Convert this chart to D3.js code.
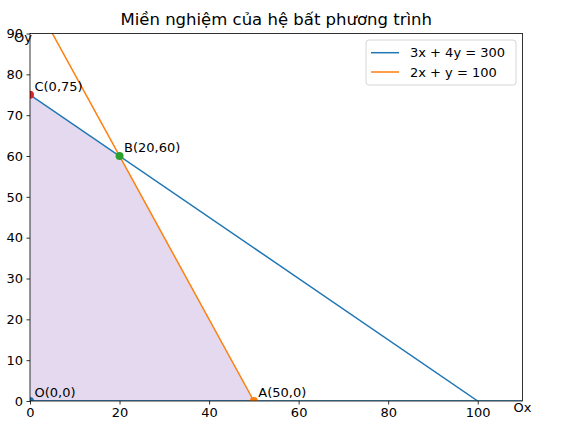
<!DOCTYPE html>
<html>
<head>
<meta charset="utf-8">
<script src="https://cdn.jsdelivr.net/npm/d3@7"></script>
<style>
  body { margin: 0; background: #fff; }
  text { font-family: "DejaVu Sans", sans-serif; fill: #000; }
</style>
</head>
<body>
<script>
// chart data
const title = "Miền nghiệm của hệ bất phương trình";
const lineLabels = ["3x + 4y = 300", "2x + y = 100"];
const lineColors = ["#1f77b4", "#ff7f0e"];
const line1X = [0, 100];
const line1Y = [75, 0];
const line2X = [0, 50];
const line2Y = [100, 0];
const pointNames = ["O(0,0)", "A(50,0)", "B(20,60)", "C(0,75)"];
const pointX = [0, 50, 20, 0];
const pointY = [0, 0, 60, 75];
const pointColors = ["#1f77b4", "#ff7f0e", "#2ca02c", "#d62728"];
const xTicks = [0, 20, 40, 60, 80, 100];
const yTicks = [0, 10, 20, 30, 40, 50, 60, 70, 80, 90];

const svgWidth = 568, svgHeight = 424;
const margin = { top: 33.5, left: 30, right: 45.5, bottom: 23 };
const chartWidth = svgWidth - margin.left - margin.right;
const chartHeight = svgHeight - margin.top - margin.bottom;

const svg = d3.select("body").append("svg")
  .attr("width", svgWidth)
  .attr("height", svgHeight);

svg.append("defs").append("clipPath").attr("id", "clip")
  .append("rect").attr("width", chartWidth).attr("height", chartHeight);

const chartGroup = svg.append("g")
  .attr("transform", `translate(${margin.left}, ${margin.top})`);

const x = d3.scaleLinear().domain([0, 110]).range([0, chartWidth]);
const y = d3.scaleLinear().domain([0, 90]).range([chartHeight, 0]);

// axes
const bottomAxis = d3.axisBottom(x).tickValues(xTicks).tickSize(3.5).tickPadding(3.5);
const leftAxis = d3.axisLeft(y).tickValues(yTicks).tickSize(3.5).tickPadding(3.5);

const gx = chartGroup.append("g")
  .attr("transform", `translate(0, ${chartHeight})`)
  .call(bottomAxis);
const gy = chartGroup.append("g").call(leftAxis);
[gx, gy].forEach(g => {
  g.select(".domain").remove();
  g.selectAll("text").style("font-size", "13px").style("font-family", "DejaVu Sans");
  g.selectAll("line").attr("stroke", "#000").attr("stroke-width", 0.8);
});

const plot = chartGroup.append("g").attr("clip-path", "url(#clip)");

// feasible region
plot.append("path")
  .datum(pointX.map((d, i) => [d, pointY[i]]))
  .attr("d", d3.line().x(d => x(d[0])).y(d => y(d[1])))
  .attr("fill", "#9467bd")
  .attr("fill-opacity", 0.25);

const drawLine = d3.line().x(d => x(d[0])).y(d => y(d[1]));
[[line1X, line1Y], [line2X, line2Y]].forEach((l, i) => {
  plot.append("path")
    .datum(l[0].map((d, j) => [d, l[1][j]]))
    .attr("d", drawLine)
    .attr("fill", "none")
    .attr("stroke", lineColors[i])
    .attr("stroke-width", 1.5);
});

// spines
chartGroup.append("rect")
  .attr("width", chartWidth).attr("height", chartHeight)
  .attr("fill", "none").attr("stroke", "#000").attr("stroke-width", 0.8);

// y = 0 line
plot.append("line")
  .attr("x1", x(0)).attr("x2", x(110))
  .attr("y1", y(0)).attr("y2", y(0))
  .attr("stroke", "#1f77b4").attr("stroke-width", 1.5);

// vertices
plot.selectAll(".pt")
  .data(pointX)
  .enter()
  .append("circle")
  .attr("class", "pt")
  .attr("cx", d => x(d))
  .attr("cy", (d, i) => y(pointY[i]))
  .attr("r", 4)
  .attr("fill", (d, i) => pointColors[i]);

chartGroup.selectAll(".ptLabel")
  .data(pointX)
  .enter()
  .append("text")
  .attr("class", "ptLabel")
  .attr("x", d => x(d + 1))
  .attr("y", (d, i) => y(pointY[i] + 1))
  .style("font-size", "13px")
  .text((d, i) => pointNames[i]);

// axis names
chartGroup.append("text")
  .attr("x", x(110)).attr("y", y(0) + 11)
  .attr("text-anchor", "middle")
  .style("font-size", "13px")
  .text("Ox");
chartGroup.append("text")
  .attr("x", x(0) - 7).attr("y", y(90) + 8)
  .attr("text-anchor", "middle")
  .style("font-size", "13px")
  .text("Oy");

// title
svg.append("text")
  .attr("x", margin.left + chartWidth / 2)
  .attr("y", 25)
  .attr("text-anchor", "middle")
  .style("font-size", "16.5px")
  .text(title);

// legend
const legend = svg.append("g").attr("transform", "translate(366, 40)");
legend.append("rect")
  .attr("width", 150).attr("height", 45)
  .attr("rx", 3)
  .attr("fill", "#fff").attr("fill-opacity", 0.8)
  .attr("stroke", "#ccc").attr("stroke-width", 0.8);
lineLabels.forEach((lab, i) => {
  const yy = 12.7 + i * 19.3;
  legend.append("line")
    .attr("x1", 5).attr("x2", 33)
    .attr("y1", yy).attr("y2", yy)
    .attr("stroke", lineColors[i]).attr("stroke-width", 1.5);
  legend.append("text")
    .attr("x", 44).attr("y", yy + 4.7)
    .style("font-size", "13px")
    .text(lab);
});
</script>
</body>
</html>
